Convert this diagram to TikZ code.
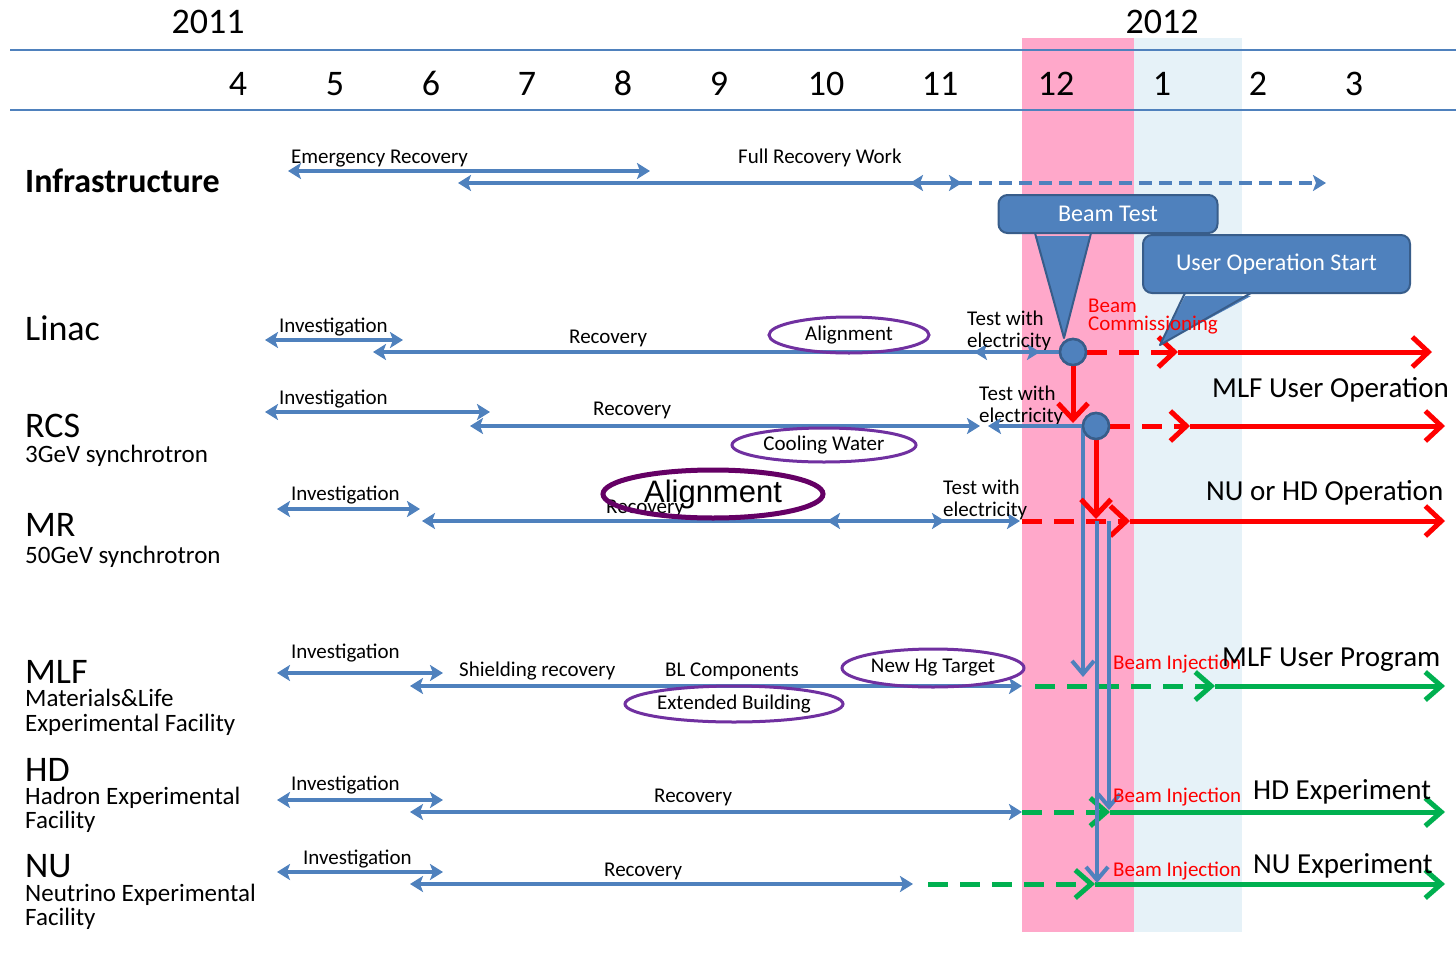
\documentclass[tikz,border=0pt]{standalone}
\usepackage{fontspec}
\setmainfont{Carlito}
\newfontfamily\arialfont{Liberation Sans}
\usetikzlibrary{arrows.meta,shapes.geometric}

\definecolor{jblue}{HTML}{4F81BD}
\definecolor{jbluedark}{HTML}{385D8A}
\definecolor{jred}{HTML}{FF0000}
\definecolor{jgreen}{HTML}{00B050}
\definecolor{jpink}{HTML}{FFA8CA}
\definecolor{jice}{HTML}{E6F2F8}
\definecolor{jpurple}{HTML}{7030A0}
\definecolor{jplum}{HTML}{650065}

\tikzset{
  bh/.tip={Stealth[length=13pt,width=16pt,inset=3pt]},
  rb/.tip={Straight Barb[length=16pt,width=30pt]},
  gb/.tip={Straight Barb[length=16pt,width=28pt]},
  vb/.tip={Straight Barb[length=13pt,width=22pt]},
}

\begin{document}
\begin{tikzpicture}[x=1pt,y=-1pt,
  txt/.style={inner sep=0pt, font=\fontsize{21}{22}\selectfont, text=black},
  twoline/.style={txt, align=left, anchor=west},
  month/.style={inner sep=0pt, font=\fontsize{36}{36}\selectfont, anchor=base},
  head/.style={inner sep=0pt, font=\fontsize{36}{36}\selectfont, anchor=base west},
  sub/.style={inner sep=0pt, font=\fontsize{25}{25}\selectfont, anchor=base west},
  goal/.style={inner sep=0pt, font=\fontsize{29}{29}\selectfont, anchor=base west},
  redtxt/.style={inner sep=0pt, font=\fontsize{21}{18}\selectfont, text=jred},
  rule/.style={draw=jblue, line width=2.2pt},
  bar/.style={draw=jblue, line width=4pt, arrows={bh-bh}},
  barl/.style={draw=jblue, line width=4pt, arrows={bh-}},
  bardash/.style={bar, dash pattern=on 13pt off 7pt},
  redrun/.style={draw=jred, line width=5pt, arrows={-rb}},
  reddash/.style={redrun, dash pattern=on 20pt off 12pt},
  greenrun/.style={draw=jgreen, line width=5pt, arrows={-gb}},
  greendash/.style={greenrun, dash pattern=on 20pt off 12pt},
  drop/.style={draw=jblue, line width=4pt, arrows={-vb}},
  reddrop/.style={draw=jred, line width=5pt, arrows={-rb}},
  ring/.style={ellipse, draw=jpurple, line width=3pt, inner sep=0pt, font=\fontsize{21}{22}\selectfont},
  hub/.style={circle, fill=jblue, draw=jbluedark, line width=2.5pt, minimum size=26pt, inner sep=0pt},
  callout/.style={rectangle, rounded corners=9pt, fill=jblue, draw=jbluedark, line width=2pt,
    text=white, font=\fontsize{24}{24}\selectfont, inner sep=0pt},
]
\useasboundingbox (0,0) rectangle (1456,953);
\fill[white] (0,0) rectangle (1456,953);

% December / January bands
\fill[jpink] (1022,38) rectangle (1134,932);
\fill[jice] (1134,38) rectangle (1242,932);

% header rules
\coordinate (r1a) at (10,50);  \coordinate (r1b) at (1456,50);
\coordinate (r2a) at (10,110); \coordinate (r2b) at (1456,110);
\draw[rule] (r1a) -- (r1b);
\draw[rule] (r2a) -- (r2b);

% years and months
\node[month] (y2011) at (208,33) {2011};
\node[month] (y2012) at (1162,33) {2012};
\node[month] (m4)  at (238,95) {4};
\node[month] (m5)  at (335,95) {5};
\node[month] (m6)  at (431,95) {6};
\node[month] (m7)  at (527,95) {7};
\node[month] (m8)  at (623,95) {8};
\node[month] (m9)  at (719,95) {9};
\node[month] (m10) at (826,95) {10};
\node[month] (m11) at (940,95) {11};
\node[month] (m12) at (1056,95) {12};
\node[month] (m1)  at (1162,95) {1};
\node[month] (m2)  at (1258,95) {2};
\node[month] (m3)  at (1354,95) {3};

% row titles
\node[inner sep=0pt, font=\bfseries\fontsize{34}{34}\selectfont, anchor=base west] (tinf) at (25,192) {Infrastructure};
\node[head] (tlin) at (25,340) {Linac};
\node[head] (trcs) at (25,437) {RCS};
\node[sub]  (srcs) at (25,462) {3GeV synchrotron};
\node[head] (tmr)  at (25,536) {MR};
\node[sub]  (smr)  at (25,563) {50GeV synchrotron};
\node[head] (tmlf) at (25,683) {MLF};
\node[sub]  (smlf1) at (25,706) {Materials\&Life};
\node[sub]  (smlf2) at (25,731) {Experimental Facility};
\node[head] (thd)  at (25,781) {HD};
\node[sub]  (shd1) at (25,804) {Hadron Experimental};
\node[sub]  (shd2) at (25,828) {Facility};
\node[head] (tnu)  at (25,877) {NU};
\node[sub]  (snu1) at (25,901) {Neutrino Experimental};
\node[sub]  (snu2) at (25,925) {Facility};

% ---------- Infrastructure ----------
\node[txt, anchor=base west] (ler) at (291,163) {Emergency Recovery};
\node[txt, anchor=base west] (lfr) at (738,163) {Full Recovery Work};
\coordinate (era) at (288,171);  \coordinate (erb) at (650,171);
\coordinate (fra) at (458,183);  \coordinate (frb) at (962,183);
\coordinate (fwa) at (910,183);  \coordinate (fwb) at (1326,183);
\draw[bar] (era) -- (erb);
\draw[bar] (fra) -- (frb);
\draw[bardash] (fwa) -- (fwb);

% ---------- Linac ----------
\node[txt, anchor=base west] (liinv) at (279,332) {Investigation};
\node[txt, anchor=base west] (lirec) at (569,343) {Recovery};
\coordinate (lia) at (265,340); \coordinate (lib) at (403,340);
\coordinate (lic) at (373,352); \coordinate (lid) at (1040,352);
\coordinate (lie) at (974,352);
\draw[bar] (lia) -- (lib);
\draw[bar] (lic) -- (lid);
\draw[barl] (lie) -- (lid);
\node[ring, minimum width=160pt, minimum height=36pt] (lial) at (849,335) {Alignment};
\node[twoline] (litest) at (967,331) {Test with\\electricity};

% ---------- RCS ----------
\node[txt, anchor=base west] (rcinv) at (279,404) {Investigation};
\node[txt, anchor=base west] (rcrec) at (593,415) {Recovery};
\coordinate (rca) at (265,412); \coordinate (rcb) at (490,412);
\coordinate (rcc) at (470,426); \coordinate (rcd) at (980,426);
\coordinate (rce) at (988,426); \coordinate (rcf) at (1083,426);
\draw[bar] (rca) -- (rcb);
\draw[bar] (rcc) -- (rcd);
\node[ring, minimum width=184pt, minimum height=34pt] (rccw) at (824,445) {Cooling Water};
\node[twoline] (rctest) at (979,406) {Test with\\electricity};

% ---------- MR ----------
\node[txt, anchor=base west] (mrinv) at (291,500) {Investigation};
\node[txt, anchor=base west] (mrrec) at (606,513) {Recovery};
\coordinate (mra) at (277,509); \coordinate (mrb) at (420,509);
\coordinate (mrc) at (422,521); \coordinate (mrd) at (945,521);
\coordinate (mre) at (827,521); \coordinate (mrf) at (1020,521);
\draw[bar] (mra) -- (mrb);
\draw[bar] (mrc) -- (mrd);
\draw[bar] (mre) -- (mrf);
\node[ellipse, draw=jplum, line width=5pt, inner sep=0pt, minimum width=220pt, minimum height=48pt,
  font=\arialfont\fontsize{31}{31}\selectfont] (mral) at (713,494) {Alignment};
\node[twoline] (mrtest) at (943,500) {Test with\\electricity};

% ---------- MLF ----------
\node[txt, anchor=base west] (mlinv) at (291,658) {Investigation};
\node[txt, anchor=base west] (mlsh)  at (459,676) {Shielding recovery};
\node[txt, anchor=base west] (mlbl)  at (665,676) {BL Components};
\coordinate (mla) at (277,673); \coordinate (mlb) at (443,673);
\coordinate (mlc) at (410,686); \coordinate (mld) at (1022,686);
\draw[bar] (mla) -- (mlb);
\draw[bar] (mlc) -- (mld);
\node[ring, minimum width=182pt, minimum height=38pt] (mlhg) at (933,668) {New Hg Target};
\node[ring, minimum width=218pt, minimum height=36pt] (mleb) at (734,704) {Extended Building};

% ---------- HD ----------
\node[txt, anchor=base west] (hdinv) at (291,790) {Investigation};
\node[txt, anchor=base west] (hdrec) at (654,802) {Recovery};
\coordinate (hda) at (277,800); \coordinate (hdb) at (443,800);
\coordinate (hdc) at (410,812); \coordinate (hdd) at (1022,812);
\draw[bar] (hda) -- (hdb);
\draw[bar] (hdc) -- (hdd);

% ---------- NU ----------
\node[txt, anchor=base west] (nuinv) at (303,864) {Investigation};
\node[txt, anchor=base west] (nurec) at (604,876) {Recovery};
\coordinate (nua) at (277,872); \coordinate (nub) at (443,872);
\coordinate (nuc) at (410,884); \coordinate (nud) at (913,884);
\draw[bar] (nua) -- (nub);
\draw[bar] (nuc) -- (nud);

% ---------- beam operation runs ----------
\coordinate (lr1) at (1178,352); \coordinate (lr2) at (1432,352);
\coordinate (rr1) at (1190,426); \coordinate (rr2) at (1445,426);
\coordinate (mr0) at (1022,521); \coordinate (mr1) at (1130,521); \coordinate (mr2) at (1445,521);
\coordinate (mg0) at (1035,686); \coordinate (mg1) at (1215,686); \coordinate (mg2) at (1445,686);
\coordinate (hg0) at (1022,812); \coordinate (hg1) at (1110,812); \coordinate (hg2) at (1445,812);
\coordinate (ng0) at (928,884);  \coordinate (ng1) at (1095,884); \coordinate (ng2) at (1445,884);

\node[hub] (lhub) at (1073,352) {};
\node[hub] (rhub) at (1096,426) {};

\draw[reddash] (lhub.east) -- (lr1);
\draw[redrun] (lr1) -- (lr2);
\draw[reddash] (rhub.east) -- (rr1);
\draw[redrun] (rr1) -- (rr2);
\draw[reddash] (mr0) -- (mr1);
\draw[redrun] (mr1) -- (mr2);
\draw[greendash] (mg0) -- (mg1);
\draw[greenrun] (mg1) -- (mg2);
\draw[greendash] (hg0) -- (hg1);
\draw[greenrun] (hg1) -- (hg2);
\draw[greendash] (ng0) -- (ng1);
\draw[greenrun] (ng1) -- (ng2);

% beam transport lines
\coordinate (v1e) at (1083,677);
\coordinate (v2a) at (1097,521); \coordinate (v2e) at (1097,883);
\coordinate (v3a) at (1109,521); \coordinate (v3e) at (1109,810);
\draw[draw=jblue, line width=4pt, arrows={bh-vb}] (rce) -- (rcf) -- (v1e);
\draw[drop] (v2a) -- (v2e);
\draw[drop] (v3a) -- (v3e);
\draw[draw=jblue, line width=4pt] (lid) -- (lhub);

% drops between accelerators
\coordinate (ld) at (1073,423);
\coordinate (rd) at (1096,519);
\draw[reddrop] (lhub.south) -- (ld);
\draw[reddrop] (rhub.south) -- (rd);
\node[hub] at (1096,426) {};

% callouts
\node[callout, minimum width=219pt, minimum height=38pt] (btest) at (1108,214) {Beam Test};
\coordinate (bta) at (1035,233); \coordinate (btb) at (1091,233); \coordinate (btt) at (1064,338);
\fill[jblue] ([yshift=-3pt]bta) -- (btt) -- ([yshift=-3pt]btb) -- cycle;
\draw[jbluedark, line width=2pt, line join=round] (bta) -- (btt) -- (btb);

\node[callout, minimum width=267pt, minimum height=58pt] (uos) at (1276.5,264) {User Operation Start};
\coordinate (uoa) at (1185,293); \coordinate (uob) at (1251,293); \coordinate (uot) at (1160,345);
\fill[jblue] ([yshift=-3pt]uoa) -- (uot) -- ([yshift=-3pt]uob) -- cycle;
\draw[jbluedark, line width=2pt, line join=round] (uoa) -- (uot) -- (uob);

\node[hub] at (1073,352) {};

% red and goal labels
\node[redtxt, align=left, anchor=west] (bcom) at (1088,317) {Beam\\Commissioning};
\node[redtxt, anchor=base west] (bi1) at (1113,669) {Beam Injection};
\node[redtxt, anchor=base west] (bi2) at (1113,802) {Beam Injection};
\node[redtxt, anchor=base west] (bi3) at (1113,876) {Beam Injection};
\node[goal] (g1) at (1212,397) {MLF User Operation};
\node[goal] (g2) at (1206,500) {NU or HD Operation};
\node[goal] (g3) at (1222,666) {MLF User Program};
\node[goal] (g4) at (1253,799) {HD Experiment};
\node[goal] (g5) at (1253,873) {NU Experiment};
\end{tikzpicture}
\end{document}
